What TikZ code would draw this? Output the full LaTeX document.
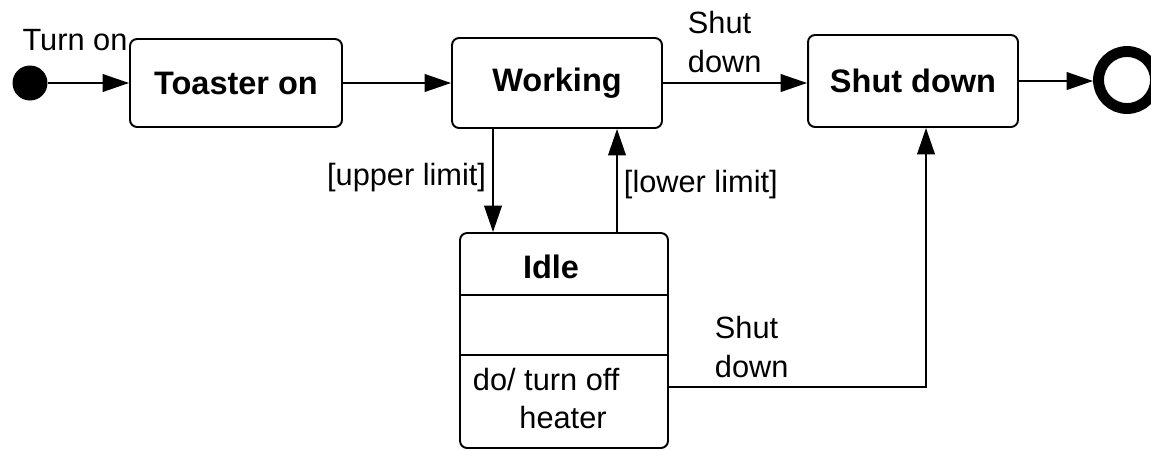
\documentclass[tikz,border=0pt]{standalone}
\usepackage{fontspec}
\setmainfont{Liberation Sans}
\usetikzlibrary{arrows.meta}

\begin{document}
\begin{tikzpicture}[x=0.02cm, y=-0.02cm, line width=1.1pt,
    font=\fontsize{17.5}{22.7}\selectfont, >={Triangle[length=15pt, width=10pt]},
    state/.style={draw, rounded corners=4pt, minimum width=4.2cm, minimum height=1.8cm,
      font=\fontsize{18.5}{22}\selectfont\bfseries},
    lbl/.style={inner sep=0pt, align=left}]
  \useasboundingbox (0,0) rectangle (1151,450);
  % states
  \node[circle, fill, inner sep=0pt, minimum size=0.7cm] (init) at (30,83) {};
  \node[state, minimum width=4.24cm, minimum height=1.76cm] (toaster) at (236,83) {Toaster on};
  \node[state] (working) at (557,83) {Working};
  \node[state, minimum height=1.84cm] (shutdown) at (913,81) {Shut down};
  \node[circle, draw, line width=6.2pt, inner sep=0pt, minimum size=1.14cm] (final) at (1127,80) {};
  \node[state, minimum width=4.16cm, minimum height=4.3cm] (idle) at (564,340.5) {};
  \node[font=\fontsize{18.5}{22}\selectfont\bfseries] (idlename) at (551,267) {Idle};
  \coordinate (div1) at (0,295);
  \coordinate (div2) at (0,355);
  \draw (idle.west |- div1) -- (idle.east |- div1);
  \draw (idle.west |- div2) -- (idle.east |- div2);
  \node[lbl, anchor=west] (doline) at (472,380) {do/ turn off};
  \node[lbl] (heater) at (563,417) {heater};
  % transitions
  \coordinate (upx) at (493,0);
  \coordinate (lowx) at (617,0);
  \coordinate (offx) at (926,387);
  \draw[->] (init) -- (toaster);
  \draw[->] (toaster) -- (working);
  \draw[->] (working) -- (working -| shutdown.west);
  \draw[->] (shutdown.east) -- (shutdown.east -| final.west);
  \draw[->] (working.south -| upx) -- (idle.north -| upx);
  \draw[->] (idle.north -| lowx) -- (working.south -| lowx);
  \draw[->] (idle.east |- offx) -- (offx) -- (shutdown.south -| offx);
  % labels
  \node[lbl] (turnon) at (75,40) {Turn on};
  \node[lbl, anchor=west] (shutlbl) at (687,42) {Shut\\down};
  \node[lbl, anchor=east] (upper) at (487,178) {[upper limit]};
  \node[lbl, anchor=west] (lower) at (623,185) {[lower limit]};
  \node[lbl, anchor=west] (idleshut) at (714,347) {Shut\\down};
\end{tikzpicture}
\end{document}
